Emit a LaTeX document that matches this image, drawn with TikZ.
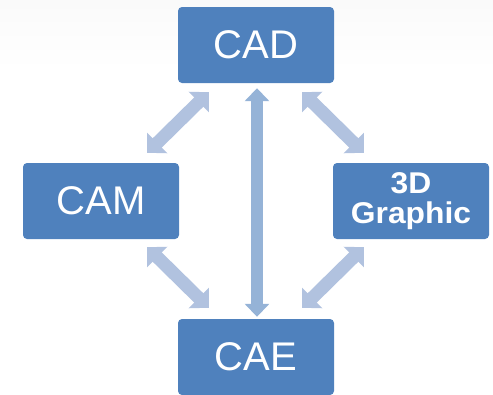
\documentclass[tikz,border=0pt]{standalone}
\usepackage{fontspec}
\setmainfont{Liberation Sans}
\newfontfamily\gfxfont[FakeStretch=1.06]{Liberation Sans}
\usetikzlibrary{arrows.meta,calc}
\definecolor{boxblue}{HTML}{4F81BD}
\definecolor{varrow}{HTML}{95B3D7}
\definecolor{darrowc}{HTML}{B1C2DF}
\tikzset{
  box/.style={fill=boxblue, rounded corners=4pt, minimum width=156pt, minimum height=76pt, inner sep=0pt, text=white, font=\fontsize{40}{44}\selectfont, align=center},
  diagarrow/.style={draw=darrowc, line width=13pt, {Triangle[length=14pt,width=28pt]}-{Triangle[length=14pt,width=28pt]}},
  vertarrow/.style={draw=varrow, line width=12pt, {Triangle[length=13pt,width=24pt]}-{Triangle[length=13pt,width=24pt]}}
}
\begin{document}
\begin{tikzpicture}[x=1pt,y=-1pt]
\useasboundingbox (0,0) rectangle (493,394);
\shade[top color=black!2, bottom color=white] (0,0) rectangle (493,70);
\node[box] (cam) at (101,201) {CAM};
\node[box] (cad) at (256,45) {CAD};
\node[box, font=\gfxfont\bfseries\fontsize{30}{30}\selectfont] (gfx) at (411,201) {3D\\Graphic};
\node[box] (cae) at (256,357) {CAE};
% diagonal connectors
\coordinate (tl1) at ($(cad.south west)+(31,9)$);
\coordinate (tl2) at ($(cam.north east)+(-32,-10)$);
\coordinate (tr1) at ($(cad.south east)+(-32,9)$);
\coordinate (tr2) at ($(gfx.north west)+(31,-10)$);
\coordinate (bl1) at ($(cam.south east)+(-32,8)$);
\coordinate (bl2) at ($(cae.north west)+(31,-11)$);
\coordinate (br1) at ($(gfx.south west)+(31,8)$);
\coordinate (br2) at ($(cae.north east)+(-32,-11)$);
\draw[diagarrow] (tl1) -- (tl2);
\draw[diagarrow] (tr1) -- (tr2);
\draw[diagarrow] (bl1) -- (bl2);
\draw[diagarrow] (br1) -- (br2);
\draw[vertarrow, shorten <=5pt, shorten >=2pt] ([xshift=1pt]cad.south) -- ([xshift=1pt]cae.north);
\end{tikzpicture}
\end{document}
